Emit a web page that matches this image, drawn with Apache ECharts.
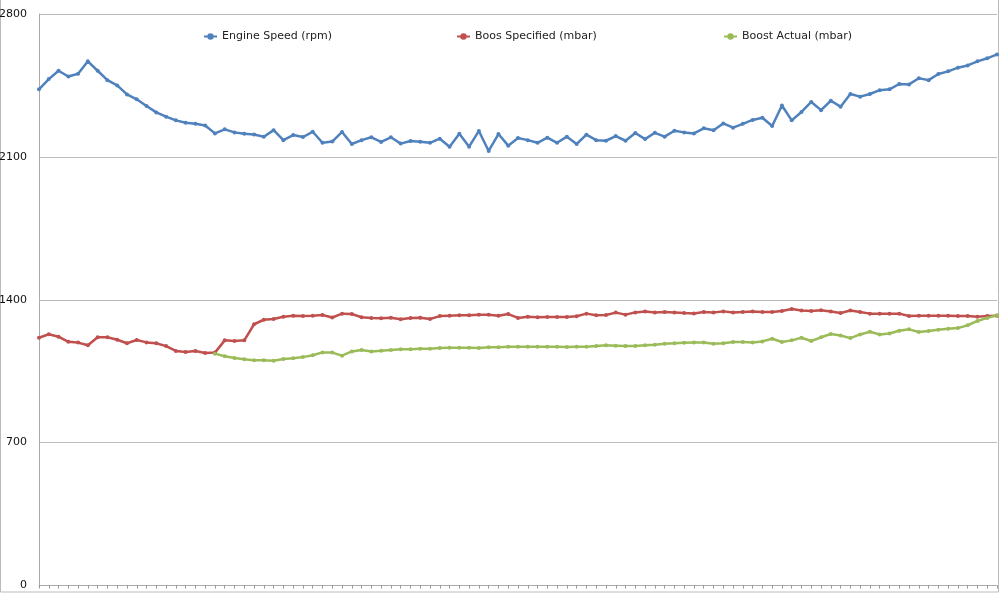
<!DOCTYPE html>
<html>
<head>
<meta charset="utf-8">
<script src="https://cdn.jsdelivr.net/npm/echarts@6/dist/echarts.min.js"></script>
<style>
  html, body { margin: 0; padding: 0; background: #fff; }
  #main { width: 1000px; height: 594px; }
</style>
</head>
<body>
<div id="main"></div>
<script>
// values
const yTicks = [0, 700, 1400, 2100, 2800];

const engineSpeed = [
  2431, 2481, 2522, 2494, 2507, 2568, 2522, 2476, 2450, 2406,
  2382, 2349, 2318, 2297, 2279, 2267, 2262, 2254, 2215, 2235,
  2220, 2213, 2210, 2199, 2231, 2182, 2207, 2197, 2223, 2169,
  2175, 2222, 2163, 2182, 2196, 2173, 2196, 2165, 2178, 2174,
  2169, 2189, 2150, 2213, 2150, 2227, 2129, 2212, 2155, 2192,
  2182, 2169, 2194, 2169, 2199, 2163, 2209, 2182, 2179, 2202,
  2179, 2217, 2187, 2218, 2199, 2228, 2220, 2215, 2240, 2230,
  2264, 2243, 2262, 2281, 2292, 2251, 2352, 2279, 2320, 2369,
  2329, 2375, 2346, 2408, 2395, 2408, 2427, 2431, 2457, 2455,
  2485, 2476, 2506, 2519, 2537, 2548, 2568, 2583, 2602
];

const boostSpecified = [
  1214, 1231, 1219, 1194, 1190, 1177, 1216, 1216, 1204, 1187,
  1203, 1191, 1187, 1173, 1149, 1144, 1149, 1139, 1141, 1201,
  1198, 1201, 1280, 1302, 1306, 1317, 1322, 1320, 1322, 1325,
  1313, 1332, 1330, 1314, 1311, 1309, 1312, 1304, 1311, 1312,
  1306, 1320, 1322, 1324, 1324, 1327, 1327, 1322, 1330, 1311,
  1317, 1314, 1316, 1316, 1316, 1319, 1332, 1324, 1325, 1337,
  1327, 1338, 1342, 1337, 1340, 1338, 1335, 1333, 1340, 1337,
  1343, 1337, 1340, 1342, 1340, 1340, 1345, 1355, 1347, 1345,
  1348, 1342, 1335, 1347, 1340, 1332, 1332, 1332, 1332, 1320,
  1322, 1322, 1322, 1322, 1320, 1320, 1317, 1320, 1322
];

const boostActual = [
  null, null, null, null, null, null, null, null, null, null,
  null, null, null, null, null, null, null, null, 1136, 1123,
  1115, 1108, 1103, 1103, 1101, 1110, 1113, 1119, 1128, 1142,
  1141, 1126, 1147, 1154, 1147, 1150, 1154, 1157, 1157, 1160,
  1160, 1164, 1165, 1165, 1165, 1164, 1167, 1167, 1170, 1170,
  1170, 1170, 1170, 1170, 1168, 1170, 1170, 1173, 1177, 1175,
  1173, 1173, 1177, 1180, 1185, 1187, 1189, 1190, 1190, 1185,
  1187, 1193, 1193, 1191, 1196, 1209, 1193, 1201, 1214, 1198,
  1216, 1232, 1225, 1212, 1230, 1243, 1230, 1235, 1248, 1255,
  1242, 1247, 1253, 1258, 1261, 1275, 1296, 1311, 1324
];

const categories = engineSpeed.map((v, i) => String(i + 1));

const seriesNames = ['Engine Speed (rpm)', 'Boos Specified (mbar)', 'Boost Actual (mbar)'];
const colors = ['#4F81BD', '#C0504D', '#9BBB59'];

let myChart = echarts.init(document.getElementById('main'));

const legendBase = {
  top: 26,
  itemWidth: 13,
  itemHeight: 8,
  itemGap: 10,
  textStyle: { fontFamily: 'DejaVu Sans', fontSize: 11, color: '#222' }
};

let option = {
  animation: false,
  color: colors,
  legend: [
    Object.assign({ left: 198, data: [seriesNames[0]] }, legendBase),
    Object.assign({ left: 451, data: [seriesNames[1]] }, legendBase),
    Object.assign({ left: 718, data: [seriesNames[2]] }, legendBase)
  ],
  grid: {
    left: 39,
    right: 3,
    top: 14,
    bottom: 8.5,
    containLabel: false,
    outerBoundsMode: 'none'
  },
  xAxis: {
    type: 'category',
    data: categories,
    boundaryGap: false,
    axisLine: { lineStyle: { color: '#aaa', width: 1 } },
    axisTick: { show: true, interval: 0, length: 3, lineStyle: { color: '#999' } },
    axisLabel: { show: false }
  },
  yAxis: {
    type: 'value',
    min: yTicks[0],
    max: yTicks[yTicks.length - 1],
    interval: 700,
    axisLine: { show: true, lineStyle: { color: '#aaa' } },
    axisTick: { show: false },
    axisLabel: {
      margin: 12,
      fontFamily: 'DejaVu Sans',
      fontSize: 11,
      color: '#111',
      formatter: v => String(v)
    },
    splitLine: { lineStyle: { color: '#bbb', width: 1 } }
  },
  series: [
    { name: seriesNames[0], data: engineSpeed },
    { name: seriesNames[1], data: boostSpecified },
    { name: seriesNames[2], data: boostActual }
  ].map(s => ({
    name: s.name,
    type: 'line',
    data: s.data,
    symbol: 'circle',
    symbolSize: 4,
    lineStyle: { width: 2.5 },
    connectNulls: false
  })),
  graphic: [
    {
      type: 'rect',
      shape: { x: 0.5, y: -2, width: 998, height: 594 },
      style: { fill: 'none', stroke: '#bbb', lineWidth: 1 },
      silent: true
    }
  ]
};

myChart.setOption(option);
</script>
</body>
</html>
